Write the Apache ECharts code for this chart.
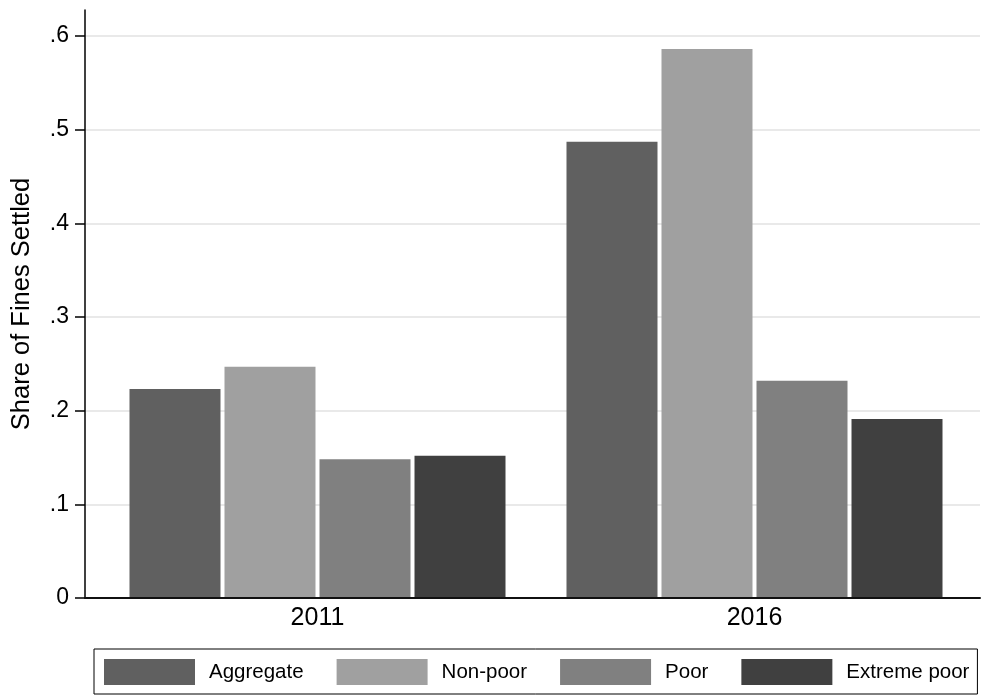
<!DOCTYPE html>
<html>
<head>
<meta charset="utf-8">
<script src="https://cdn.jsdelivr.net/npm/echarts@6/dist/echarts.min.js"></script>
<style>
html,body{margin:0;padding:0;background:#fff;}
#chart{width:981px;height:696px;}
</style>
</head>
<body>
<div id="chart"></div>
<script>
const categories = ['2011', '2016'];
const seriesNames = ['Aggregate', 'Non-poor', 'Poor', 'Extreme poor'];
const aggregate = [0.223, 0.487];
const nonPoor = [0.247, 0.586];
const poor = [0.148, 0.232];
const extremePoor = [0.152, 0.191];
const yTicks = [0, 0.1, 0.2, 0.3, 0.4, 0.5, 0.6];

const colors = ['#606060', '#a0a0a0', '#808080', '#404040'];
const FONT = 'Liberation Sans, Arial, Helvetica, sans-serif';
const seriesData = [aggregate, nonPoor, poor, extremePoor];

const chart = echarts.init(document.getElementById('chart'), null, {renderer: 'canvas'});

const option = {
  animation: false,
  backgroundColor: '#ffffff',
  textStyle: {fontFamily: FONT},
  grid: [
    {left: 85, right: 1, top: 10, bottom: 98},
    {left: 85, right: 1, top: 36, bottom: 98},
    {left: 99, width: 874, top: 36, bottom: 98}
  ],
  xAxis: [
    {gridIndex: 0, type: 'category', data: categories, z: 5,
     axisLine: {show: true, lineStyle: {color: '#111', width: 2}},
     axisTick: {show: false}, axisLabel: {show: false}, splitLine: {show: false}},
    {gridIndex: 1, type: 'category', data: categories, show: false},
    {gridIndex: 2, type: 'category', data: categories,
     axisLine: {show: false}, axisTick: {show: false},
     axisLabel: {show: true, margin: 8, fontSize: 25, color: '#000', fontFamily: FONT}}
  ],
  yAxis: [
    {gridIndex: 0, type: 'value', min: 0, max: 1,
     name: 'Share of Fines Settled', nameLocation: 'middle', nameGap: 50,
     nameTextStyle: {fontSize: 25.5, color: '#000', fontFamily: FONT},
     axisLine: {show: true, lineStyle: {color: '#000', width: 1.5}},
     axisTick: {show: false}, axisLabel: {show: false}, splitLine: {show: false}},
    {gridIndex: 1, type: 'value', min: yTicks[0], max: yTicks[yTicks.length - 1], interval: 0.1,
     axisLine: {show: false},
     axisTick: {show: true, length: 10, lineStyle: {color: '#000', width: 1.5}},
     axisLabel: {show: true, margin: 16, fontSize: 23, color: '#000', fontFamily: FONT,
       formatter: v => v === 0 ? '0' : String(Math.round(v * 10) / 10).replace(/^0/, '')},
     splitLine: {show: true, lineStyle: {color: '#e9e9e9', width: 2}}},
    {gridIndex: 2, type: 'value', min: yTicks[0], max: yTicks[yTicks.length - 1], show: false}
  ],
  legend: {
    left: 94, top: 649,
    orient: 'horizontal',
    itemWidth: 91, itemHeight: 26, itemGap: 33,
    padding: [10, 8, 9, 10],
    borderColor: '#000', borderWidth: 1,
    icon: 'rect',
    textStyle: {fontSize: 20.5, color: '#000', fontFamily: FONT, padding: [0, 0, 0, 9]},
    data: seriesNames
  },
  series: seriesNames.map((name, i) => ({
    name: name,
    type: 'bar',
    xAxisIndex: 2, yAxisIndex: 2,
    data: seriesData[i],
    barWidth: 91,
    barGap: '4.4%',
    itemStyle: {color: colors[i]},
    z: 3
  }))
};
chart.setOption(option);
</script>
</body>
</html>
